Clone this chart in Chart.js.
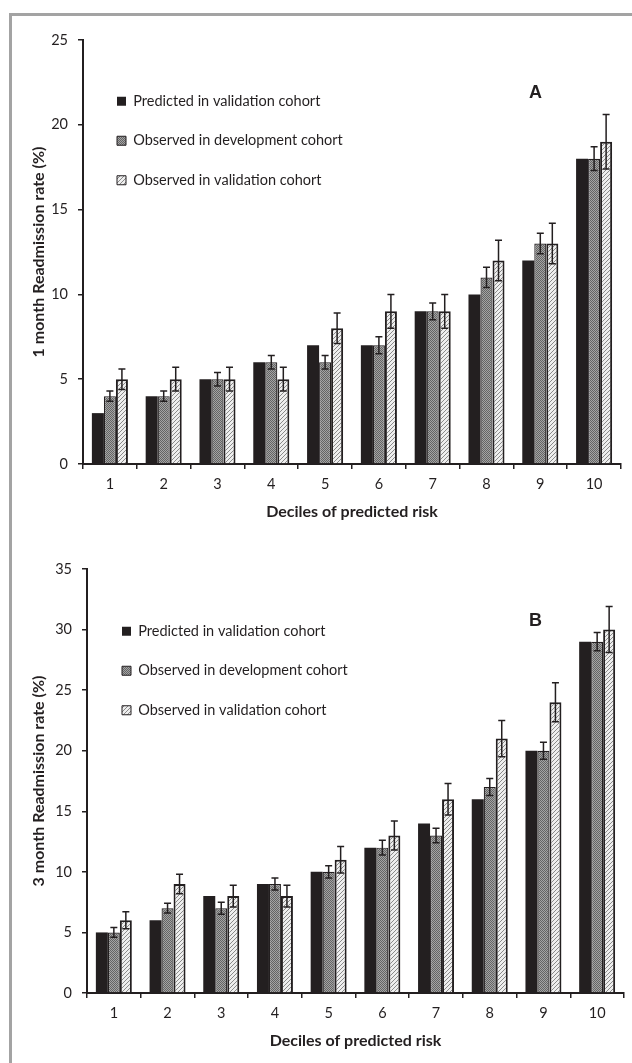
<!DOCTYPE html>
<html>
<head>
<meta charset="utf-8">
<script src="https://cdn.jsdelivr.net/npm/chart.js"></script>
<style>
  html, body { margin: 0; padding: 0; background: #fff; }
  body { width: 632px; height: 1063px; position: relative; overflow: hidden; }
  #frame { position: absolute; left: 9px; top: 13px; right: 0; bottom: 0;
           border-top: 3px solid #a3a3a3; border-left: 3px solid #a3a3a3; }
  canvas { position: absolute; left: 0; }
  #chartA { top: 0; }
  #chartB { top: 530px; }
  .panel { position: absolute; font: bold 18px "Liberation Sans", Arial, sans-serif;
           color: #231f20; line-height: 20px; }
</style>
</head>
<body>
<div id="frame"></div>
<canvas id="chartA" width="632" height="530"></canvas>
<canvas id="chartB" width="632" height="533"></canvas>
<div class="panel" style="left:529px; top:82px;">A</div>
<div class="panel" style="left:529px; top:610px;">B</div>
<script>
// data
const deciles = ['1', '2', '3', '4', '5', '6', '7', '8', '9', '10'];
const seriesNames = ['Predicted in validation cohort', 'Observed in development cohort', 'Observed in validation cohort'];

// panel A: 1 month readmission (%)
const predA = [3, 4, 5, 6, 7, 7, 9, 10, 12, 18];
const devA = [4, 4, 5, 6, 6, 7, 9, 11, 13, 18];
const valA = [5, 5, 5, 5, 8, 9, 9, 12, 13, 19];
const devErrA = [0.3, 0.3, 0.4, 0.4, 0.4, 0.5, 0.5, 0.6, 0.6, 0.7];
const valErrA = [0.6, 0.7, 0.7, 0.7, 0.9, 1.0, 1.0, 1.2, 1.2, 1.6];

// panel B: 3 month readmission (%)
const predB = [5, 6, 8, 9, 10, 12, 14, 16, 20, 29];
const devB = [5, 7, 7, 9, 10, 12, 13, 17, 20, 29];
const valB = [6, 9, 8, 8, 11, 13, 16, 21, 24, 30];
const devErrB = [0.4, 0.4, 0.5, 0.5, 0.5, 0.6, 0.6, 0.7, 0.7, 0.75];
const valErrB = [0.7, 0.8, 0.9, 0.9, 1.1, 1.2, 1.3, 1.5, 1.6, 1.9];

const yMaxA = 25;
const yMaxB = 35;
const yStep = 5;

const ink = '#231f20';
Chart.defaults.font.family = 'Lato, "Open Sans", sans-serif';
Chart.defaults.color = ink;

function dotPattern() {
    const c = document.createElement('canvas');
    c.width = 2; c.height = 2;
    const g = c.getContext('2d');
    g.fillStyle = '#a4a4a4';
    g.fillRect(0, 0, 2, 2);
    g.fillStyle = '#646464';
    g.fillRect(0, 0, 1, 1);
    g.fillRect(1, 1, 1, 1);
    return g.createPattern(c, 'repeat');
}

function hatchPattern() {
    const c = document.createElement('canvas');
    c.width = 4; c.height = 4;
    const g = c.getContext('2d');
    g.fillStyle = '#eeeeee';
    g.fillRect(0, 0, 4, 4);
    g.fillStyle = '#8a8a8a';
    for (let i = 0; i < 4; i++) g.fillRect(i, 3 - i, 1, 1);
    return g.createPattern(c, 'repeat');
}

// error bars for datasets that carry an `errors` array
const errorBars = {
    id: 'errorBars',
    afterDatasetsDraw(chart) {
        const ctx = chart.ctx;
        const y = chart.scales.y;
        ctx.save();
        ctx.strokeStyle = ink;
        ctx.lineWidth = 1.5;
        chart.data.datasets.forEach((ds, di) => {
            if (!ds.errors) return;
            chart.getDatasetMeta(di).data.forEach((bar, i) => {
                const v = ds.data[i], e = ds.errors[i];
                const top = y.getPixelForValue(v + e);
                const bot = y.getPixelForValue(v - e);
                const x = bar.x;
                ctx.beginPath();
                ctx.moveTo(x, top); ctx.lineTo(x, bot);
                ctx.moveTo(x - 3.5, top); ctx.lineTo(x + 3.5, top);
                ctx.moveTo(x - 3.5, bot); ctx.lineTo(x + 3.5, bot);
                ctx.stroke();
            });
        });
        ctx.restore();
    }
};

// move the in-area legend to where the figure has it
function legendMover(left, top) {
    return {
        id: 'legendMover',
        afterLayout(chart) {
            chart.legend.left = left;
            chart.legend.top = top;
        }
    };
}

function makeChart(id, o) {
    const ctx = document.getElementById(id).getContext('2d');
    return new Chart(ctx, {
        type: 'bar',
        data: {
            labels: deciles,
            datasets: [
                { label: seriesNames[0], data: o.pred, backgroundColor: ink, borderWidth: 0 },
                { label: seriesNames[1], data: o.dev, errors: o.devErr, backgroundColor: dotPattern(),
                  borderColor: ink, borderWidth: 1.2 },
                { label: seriesNames[2], data: o.val, errors: o.valErr, backgroundColor: hatchPattern(),
                  borderColor: ink, borderWidth: 2 }
            ]
        },
        options: {
            responsive: false,
            animation: false,
            categoryPercentage: 0.67,
            barPercentage: 1.0,
            layout: { padding: o.padding },
            plugins: {
                tooltip: { enabled: false },
                legend: {
                    position: 'chartArea',
                    align: 'start',
                    labels: {
                        boxWidth: 9,
                        boxHeight: 9,
                        padding: 25,
                        color: ink,
                        font: { size: 14.5 },
                        generateLabels(chart) {
                            const items = Chart.defaults.plugins.legend.labels.generateLabels(chart);
                            items.forEach(it => { it.lineWidth = it.datasetIndex === 0 ? 0 : 1; });
                            return items;
                        }
                    }
                }
            },
            scales: {
                x: {
                    grid: { drawOnChartArea: false, drawTicks: true, tickLength: 5, color: ink, lineWidth: 1.5 },
                    border: { color: ink, width: 2 },
                    ticks: { padding: 7, color: ink, font: { size: 14.5 } },
                    title: { display: true, text: 'Deciles of predicted risk', color: ink,
                             font: { size: 16, weight: 'bold' }, padding: { top: 0, bottom: o.xTitlePad } },
                    afterFit(scale) { scale.height = o.xHeight; }
                },
                y: {
                    min: 0,
                    max: o.yMax,
                    ticks: { stepSize: yStep, padding: 10, color: ink, font: { size: 14.5 } },
                    grid: { drawOnChartArea: false, drawTicks: true, tickLength: 5, color: ink, lineWidth: 1.5 },
                    border: { color: ink, width: 2 },
                    title: { display: true, text: o.yTitle, color: ink,
                             font: { size: 16, weight: 'bold' }, padding: { top: 29, bottom: 0 } },
                    afterFit(scale) { scale.width = o.yWidth; }
                }
            }
        },
        plugins: [errorBars, legendMover(o.legendLeft, o.legendTop)]
    });
}

makeChart('chartA', {
    pred: predA, dev: devA, val: valA, devErr: devErrA, valErr: valErrA,
    yMax: yMaxA, yTitle: '1 month Readmission rate (%)',
    padding: { left: 0, top: 40, right: 11, bottom: 0 },
    yWidth: 83, xHeight: 66, xTitlePad: 8.4,
    legendLeft: 92, legendTop: 69
});

makeChart('chartB', {
    pred: predB, dev: devB, val: valB, devErr: devErrB, valErr: valErrB,
    yMax: yMaxB, yTitle: '3 month Readmission rate (%)',
    padding: { left: 0, top: 39, right: 8, bottom: 0 },
    yWidth: 87, xHeight: 70, xTitlePad: 12.4,
    legendLeft: 97, legendTop: 69
});
</script>
</body>
</html>
